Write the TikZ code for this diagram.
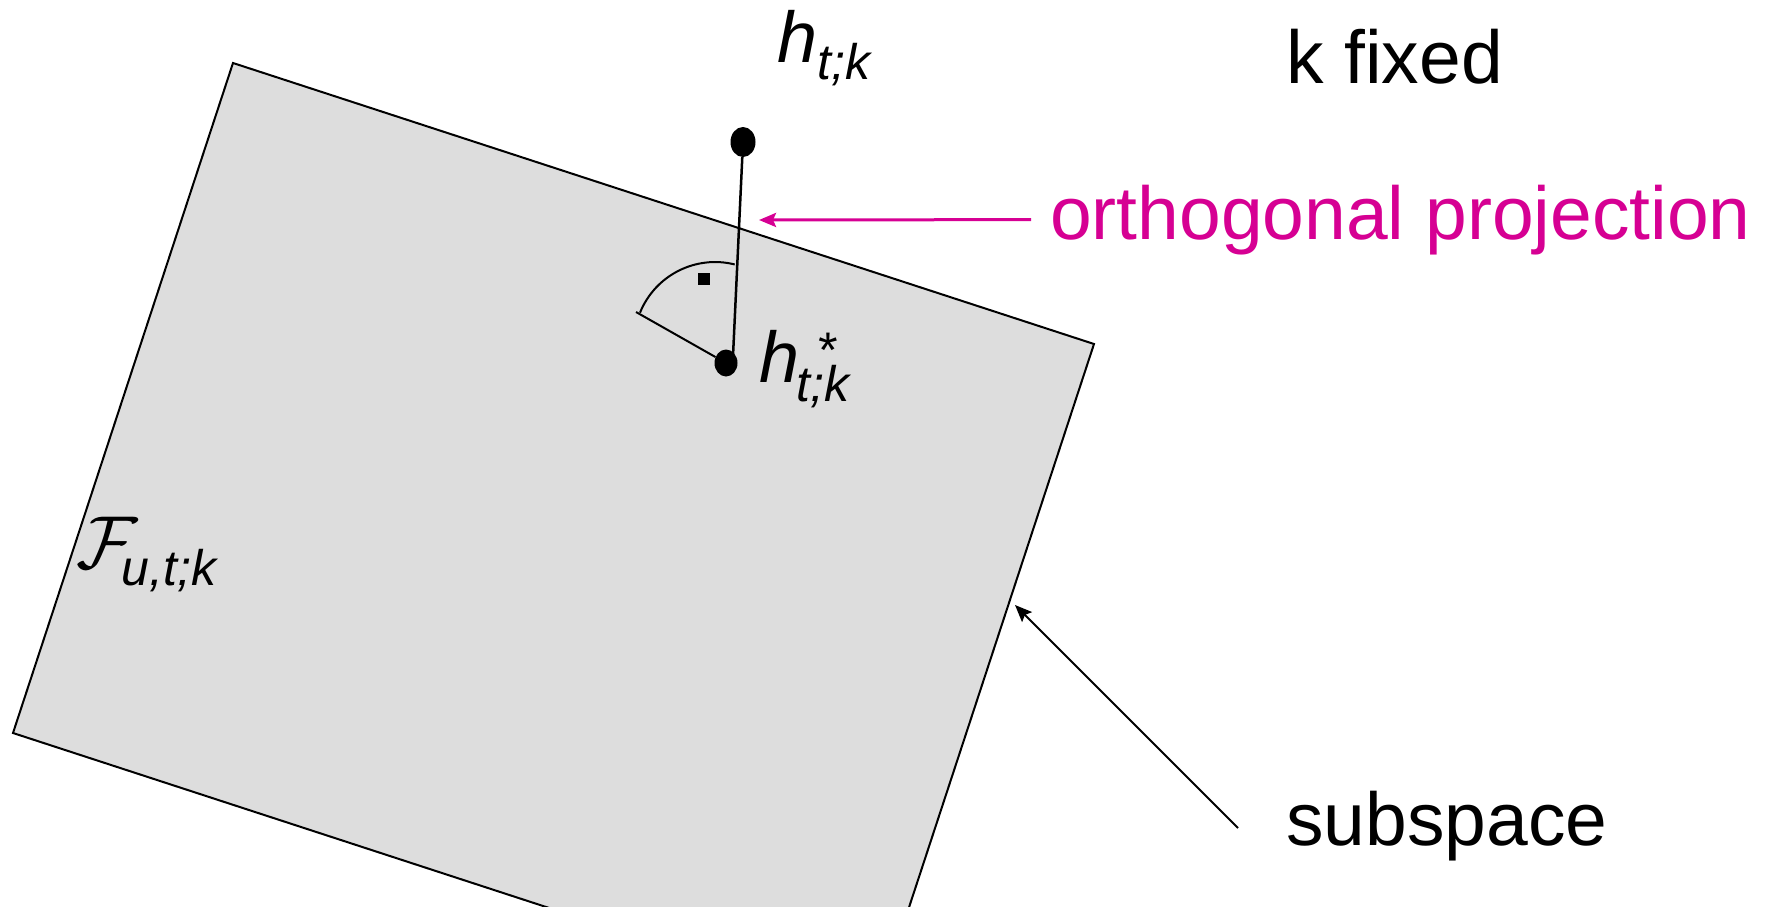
\documentclass[tikz,border=0pt]{standalone}
\usepackage{fontspec}
\setmainfont{Liberation Sans}
\usepackage{graphicx}
\usetikzlibrary{arrows.meta,shapes.geometric}
\definecolor{projpink}{RGB}{214,0,147}
\definecolor{planegray}{RGB}{221,221,221}
\newcommand\fsz[1]{\fontsize{#1}{#1}\selectfont}
\begin{document}
\begin{tikzpicture}[x=1pt,y=-1pt,
  lbl/.style={inner sep=0pt, anchor=base west, font=\fsz{75}},
  mathlbl/.style={inner sep=0pt, anchor=base west},
  dot/.style={ellipse, fill=black, inner sep=0pt},
  stroke/.style={line width=2pt},
  headtip/.style={-{Stealth[length=17pt,width=14pt,inset=3pt]}}
]
\useasboundingbox (0,0) rectangle (1767,907);
\clip (0,0) rectangle (1767,907);
% subspace plane
\draw[stroke, fill=planegray, line join=miter] (233,63) -- (1094,344) -- (874,1014) -- (13,733) -- cycle;
% points
\node[dot, minimum width=25pt, minimum height=30pt] (h) at (743,142) {};
\node[dot, minimum width=23pt, minimum height=27pt] (hs) at (726,363) {};
\coordinate (foot) at (733,356);
\coordinate (legend) at (636,312);
\draw[line width=2.5pt] (h) -- (foot);
\draw[stroke] (hs) -- (legend);
% right angle mark
\draw[stroke] (640,312.7) arc[start angle=-158, end angle=-76, radius=81];
\fill (698,273) rectangle (710,285);
% labels
\node[mathlbl] (hlab) at (777,63) {\fsz{72}\itshape h\raisebox{-17pt}{\fsz{50}t;k}};
\node[mathlbl] (hslab) at (759,382) {\fsz{72}\itshape h\kern-3pt\rlap{\raisebox{15pt}{\fsz{50}\kern20pt *}}\raisebox{-19pt}{\fsz{50}t;k}};
\node[mathlbl] (flab) at (76,568) {\scalebox{7.5}{$\mathcal{F}$}\kern-16pt\raisebox{-17pt}{\fsz{50}\itshape u,t;k}};
\node[lbl] (kfixed) at (1286,84) {k fixed};
\node[lbl] (subsp) at (1286,845) {subspace};
\node[lbl, text=projpink] (ortho) at (1050,239) {orthogonal projection};
% arrows
\coordinate (ptip) at (759,220);
\draw[projpink, line width=3pt, headtip] ([xshift=-19pt]ortho.west) -- (ptip);
\coordinate (stail) at (1238,828);
\coordinate (stip) at (1015,605);
\draw[stroke, headtip] (stail) -- (stip);
\end{tikzpicture}
\end{document}
